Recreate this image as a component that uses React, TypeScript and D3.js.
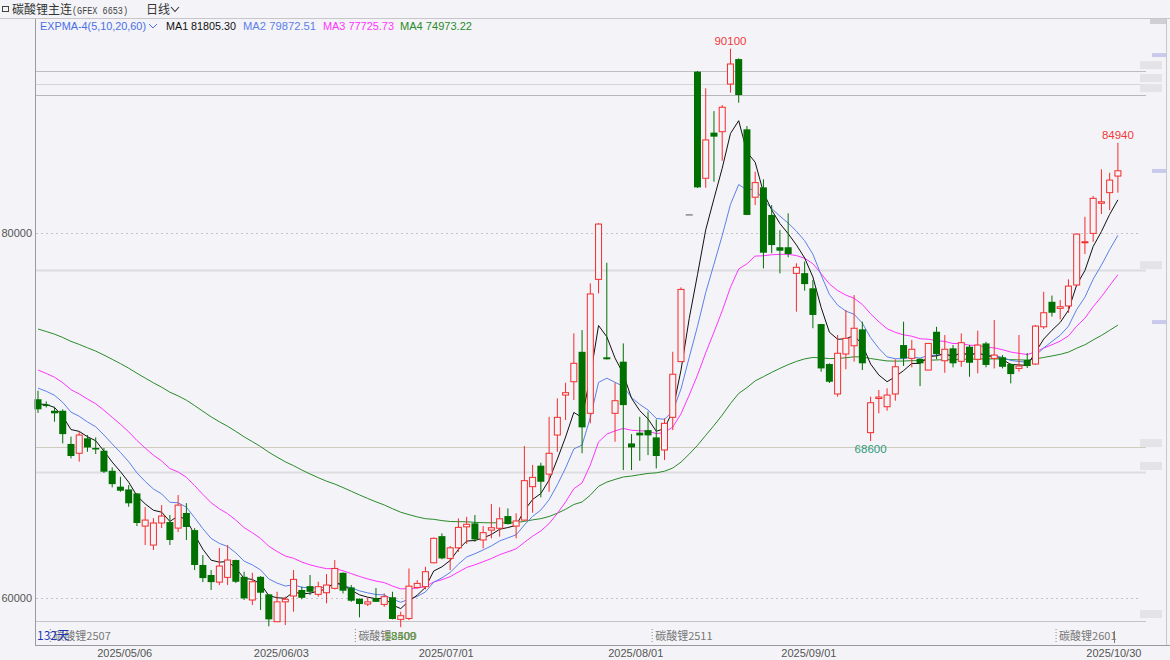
import React, { useEffect } from 'react';
import * as d3 from 'd3';

const W = 1170;
const H = 660;

// OHLC per trading day (index 0 = 2025/04/16 ... 131 = 2025/10/30)
const opens = [
  70890, 70600, 70260, 70260, 68440, 67930, 68750, 68220, 68070, 66970,
  66100, 65950, 65730, 63940, 62900, 64110, 64160, 63830, 64660, 63720,
  61810, 61260, 60870, 61130, 62080, 61160, 59890, 61160, 60200, 58700,
  59790, 60110, 60440, 60650, 60200, 60290, 60530, 61380, 60580, 59960,
  59670, 59980, 59650, 60040, 58830, 58880, 60580, 60620, 61930, 63390,
  62170, 62750, 63900, 64090, 63180, 63720, 63820, 64490, 63940, 64270,
  66100, 67250, 66790, 68930, 71120, 71850, 73490, 70120, 77460, 73190,
  70120, 72950, 68470, 69060, 69200, 68800, 68110, 69900, 72950, 80990,
  88840, 83000, 85500, 85550, 88160, 89530, 85680, 81960, 82500, 80990,
  79220, 79220, 77790, 77800, 76970, 75010, 72820, 71180, 73370, 73820,
  74720, 69060, 70930, 70480, 71180, 73860, 73130, 73110, 72490, 74590,
  73000, 73680, 72970, 73770, 73080, 73950, 73130, 73190, 72820, 72580,
  73040, 72820, 74860, 76230, 75870, 76000, 77150, 79470, 79980, 81630,
  82210, 83120,
];
const highs = [
  71360, 70770, 70480, 70340, 68840, 69110, 68930, 68800, 68220, 67160,
  66640, 66190, 65750, 64980, 64380, 65090, 64550, 65640, 65200, 63830,
  62350, 61530, 62740, 62900, 62100, 61440, 61380, 61200, 60220, 60340,
  60070, 61530, 60620, 61260, 60890, 61310, 62080, 61400, 60710, 59980,
  60040, 60550, 60250, 60340, 59250, 61620, 60980, 61710, 63320, 63540,
  62850, 64360, 64450, 64550, 63940, 65150, 64970, 64910, 64640, 68330,
  67290, 67410, 69930, 70940, 71800, 74500, 74680, 77240, 80530, 78370,
  71800, 73950, 68980, 69930, 70210, 69790, 69840, 73490, 77020, 80990,
  88880, 87930, 86680, 87010, 90100, 89570, 85860, 83360, 82940, 81530,
  80160, 81080, 78340, 78430, 77420, 75020, 72860, 74410, 75780, 76600,
  75140, 71030, 71400, 71490, 73080, 75140, 74140, 73120, 73960, 74860,
  74410, 73860, 74500, 73870, 74650, 74040, 75230, 73310, 72850, 74410,
  73420, 74960, 76780, 76570, 76330, 77460, 79960, 80890, 82030, 83490,
  83300, 84940,
];
const lows = [
  70140, 70440, 69660, 68470, 67650, 67470, 68010, 67890, 66850, 66060,
  65820, 65000, 63940, 62900, 62630, 63830, 62900, 63610, 63180, 61530,
  60870, 60440, 60710, 60710, 60820, 59890, 59610, 59340, 58450, 58700,
  58520, 59250, 59930, 60160, 60070, 59710, 60470, 60250, 59790, 58940,
  59560, 59780, 59520, 58830, 58400, 58790, 60520, 60470, 61900, 62120,
  61530, 62530, 62960, 63080, 62720, 63270, 63360, 64030, 63270, 64230,
  64670, 65520, 65820, 68010, 69750, 70850, 67930, 69570, 76690, 73070,
  68560, 67010, 67010, 67520, 67830, 67100, 67560, 69200, 72940, 80990,
  82470, 82480, 82810, 83960, 87690, 87140, 80980, 81530, 78060, 78890,
  77790, 78670, 75690, 76840, 74780, 72400, 71780, 71030, 72530, 72950,
  72490, 68600, 70120, 70260, 70810, 72710, 72640, 71610, 72480, 73080,
  72340, 72640, 72670, 72120, 72310, 72640, 72580, 72580, 71760, 72400,
  72600, 72770, 74740, 75420, 75270, 75630, 77090, 78850, 79520, 81040,
  81260, 82210,
];
const closes = [
  70340, 70550, 70120, 68980, 67780, 68930, 68250, 68180, 66920, 66240,
  65880, 65190, 64110, 64270, 64110, 64490, 63180, 65090, 63890, 61810,
  61090, 60870, 61750, 62080, 60890, 59980, 60890, 60290, 58830, 59790,
  59930, 61020, 60010, 60340, 60620, 60710, 61620, 60400, 59850, 59670,
  59790, 59790, 60070, 58850, 59030, 60650, 60800, 61440, 63270, 62170,
  62750, 63870, 64040, 63210, 63580, 63850, 64340, 64050, 64220, 66430,
  66610, 66370, 67930, 69900, 71250, 72860, 69350, 76660, 80490, 73080,
  70810, 70570, 68250, 68910, 68910, 67780, 69570, 72260, 76910, 80990,
  82500, 85100, 85280, 86890, 89260, 87560, 80990, 82760, 78920, 79340,
  79030, 78850, 78120, 77200, 75510, 72580, 71850, 73410, 74230, 74780,
  72860, 70700, 71010, 71120, 72670, 73130, 73630, 72860, 73950, 73370,
  73630, 72860, 73990, 72890, 73860, 72770, 73310, 72670, 72270, 72710,
  72710, 74900, 75630, 75630, 75960, 77090, 79940, 79520, 81900, 81710,
  82900, 83410,
];

const tickIdx = [11, 30, 50, 73, 94, 131];
const tickLabels = ['2025/05/06', '2025/06/03', '2025/07/01', '2025/08/01', '2025/09/01', '2025/10/30'];
const yTicks = [60000, 80000];

const emaPeriods = [5, 10, 20, 60];
const emaSeeds = [70630, 71500, 72490, 74740];
const emaColors = ['#111111', '#5b80e8', '#ff33ff', '#2a8a2a'];
const legendTitle = 'EXPMA-4(5,10,20,60)';
const legendLabels = ['MA1 81805.30', 'MA2 79872.51', 'MA3 77725.73', 'MA4 74973.22'];

// user-drawn horizontal price lines
const hLineValues = [88860, 88160, 87570, 77950, 68300, 66920, 58740];
const hLineColors = ['#bdbdc2', '#d6d6da', '#b8b8bc', '#dcdcdf', '#cfcbbd', '#dedee2', '#c4c4c8'];

// contract roll markers: boundary after index
const rollAfter = [1, 38, 74, 123];
const rollLabels = ['碳酸锂2507', '碳酸锂2509', '碳酸锂2511', '碳酸锂2601'];

// extreme labels
const extremeIdx = [84, 131, 101, 44];
const extremeKind = ['high', 'high', 'low', 'low'];
const extremeText = ['90100', '84940', '68600', '58400'];

// blurred right-axis tags (price levels)
const rightTagValues = [89200, 88490, 87940, 78240, 68490, 67230, 59120];
const rightMarkValues = [89750, 83400, 75120];

const FONT = '"Liberation Sans", Arial, "Noto Sans", sans-serif';
const MONO = '"Liberation Mono", "DejaVu Sans Mono", monospace';
const CJK = '"Noto Sans CJK SC", "Liberation Sans", sans-serif';

function ema(period: number, seed: number): number[] {
  const out: number[] = [];
  let prev = seed;
  closes.forEach((c, i) => {
    const v = i === 0 ? seed : (2 * c + (period - 1) * prev) / (period + 1);
    out.push(v);
    prev = v;
  });
  return out;
}

export default function App() {
  useEffect(() => {
    document.body.style.margin = '0';
    document.body.style.background = '#f4f4f8';
  }, []);

  const x = d3.scaleLinear().domain([0, 131]).range([38, 1117.9]);
  const y = d3.scaleLinear().domain([60000, 80000]).range([598, 233]);
  const bw = 6;

  const green = '#007000';
  const red = '#f52a2a';
  const bg = '#f4f4f8';

  const emaLines = emaPeriods.map((p, k) => {
    const vals = ema(p, emaSeeds[k]);
    const line = d3.line<number>().x((_, i) => x(i)).y((v) => y(v));
    return line(vals) || '';
  });

  const candles = opens.map((o, i) => {
    const c = closes[i];
    const h = highs[i];
    const l = lows[i];
    const cx = x(i);
    if (o === c && h === l) {
      return <line key={i} x1={cx - 3.5} x2={cx + 3.5} y1={y(c)} y2={y(c)} stroke="#555" strokeWidth={1} />;
    }
    const up = c > o;
    const top = y(Math.max(o, c));
    const bot = y(Math.min(o, c));
    if (up) {
      return (
        <g key={i}>
          <line x1={cx} x2={cx} y1={y(h)} y2={top} stroke={red} strokeWidth={1} />
          <line x1={cx} x2={cx} y1={bot} y2={y(l)} stroke={red} strokeWidth={1} />
          <rect x={cx - bw / 2} y={top} width={bw} height={Math.max(bot - top, 1)} fill={bg} stroke={red} strokeWidth={1} />
        </g>
      );
    }
    return (
      <g key={i}>
        <line x1={cx} x2={cx} y1={y(h)} y2={y(l)} stroke={green} strokeWidth={1} />
        <rect x={cx - bw / 2 - 0.5} y={top} width={bw + 1} height={Math.max(bot - top, 1.5)} fill={green} />
      </g>
    );
  });

  const legendX = [166, 243, 323, 400];
  const legendW = [70, 73, 71, 72];

  return (
    <svg width={W} height={H} style={{ display: 'block', background: bg }} xmlns="http://www.w3.org/2000/svg">
      <rect x={0} y={0} width={W} height={H} fill={bg} />
      {/* header */}
      <g fontFamily={CJK} fontSize={12} fill="#333">
        <rect x={2.5} y={6.5} width={6} height={5} fill="none" stroke="#444" strokeWidth={1} />
        <text x={12} y={14}>碳酸锂主连</text>
        <text x={72} y={14} fontFamily={MONO} fontSize={11.5} fill="#444" textLength={56} lengthAdjust="spacingAndGlyphs">(GFEX 6653)</text>
        <text x={146} y={14}>日线</text>
        <path d="M171,7 L175,11.5 L179,7" fill="none" stroke="#333" strokeWidth={1.1} />
      </g>
      <line x1={0} x2={W} y1={18.5} y2={18.5} stroke="#c6c6cc" />

      {/* legend */}
      <g fontFamily={FONT} fontSize={11.5}>
        <text x={40} y={30} fill="#4a6ee6" textLength={106} lengthAdjust="spacingAndGlyphs">{legendTitle}</text>
        <path d="M149,24 L153,28 L157,24" fill="none" stroke="#4a6ee6" strokeWidth={1} />
        {legendLabels.map((t, k) => (
          <text key={t} x={legendX[k]} y={30} fill={k === 0 ? '#111' : emaColors[k]} textLength={legendW[k]} lengthAdjust="spacingAndGlyphs">{t}</text>
        ))}
      </g>

      {/* horizontal price lines */}
      {hLineValues.map((v, k) => (
        <line key={v} x1={35} x2={1146} y1={Math.round(y(v)) + 0.5} y2={Math.round(y(v)) + 0.5} stroke={hLineColors[k]} strokeWidth={k === 3 || k === 5 ? 2 : 1} />
      ))}
      {/* dotted grid */}
      {yTicks.map((v) => (
        <line key={v} x1={36} x2={1140} y1={Math.round(y(v)) + 0.5} y2={Math.round(y(v)) + 0.5} stroke="#c4c4c8" strokeDasharray="2,3" />
      ))}

      {/* right axis area */}
      {rightTagValues.map((v) => (
        <rect key={v} x={1140} y={y(v) - 4} width={22} height={8} fill="#e4e4e8" />
      ))}
      {rightMarkValues.map((v) => (
        <rect key={v} x={1152} y={y(v) - 2} width={14} height={4} fill="#c9c9ec" />
      ))}
      <rect x={1150} y={19} width={16} height={5} fill="#d0d0d4" />
      <line x1={1166.5} x2={1166.5} y1={19} y2={645} stroke="#c8c8cc" />

      {/* y axis labels */}
      {yTicks.map((v) => (
        <text key={v} x={32} y={y(v) + 4} textAnchor="end" fontFamily={FONT} fontSize={11} fill="#555">{v}</text>
      ))}

      {/* EMA lines */}
      {emaLines.slice().reverse().map((d, k) => (
        <path key={k} d={d} fill="none" stroke={emaColors[emaColors.length - 1 - k]} strokeWidth={1} />
      ))}

      {/* candles */}
      {candles}

      {/* bottom info row */}
      {rollAfter.map((a, k) => {
        const bx = (x(a) + x(a + 1)) / 2;
        return (
          <g key={a}>
            <line x1={bx} x2={bx} y1={629} y2={643} stroke="#888" strokeDasharray="1,2" />
            <text x={bx + 3} y={640} fontFamily={CJK} fontSize={11} fill="#777">{rollLabels[k]}</text>
          </g>
        );
      })}
      <line x1={1114.5} x2={1114.5} y1={631} y2={643} stroke="#777" />
      <text x={37} y={640} fontFamily={CJK} fontSize={12} fill="#1c36b8">132天</text>

      {/* extremes */}
      {extremeIdx.map((i, k) => {
        const isHigh = extremeKind[k] === 'high';
        const ty = isHigh ? y(highs[i]) - 4 : y(lows[i]) + 12;
        const fill = isHigh ? '#f03a3a' : k === 2 ? '#2f9a7a' : '#5a9a30';
        const fy = k === 3 ? 640 : ty;
        return (
          <text key={i} x={x(i)} y={fy} textAnchor="middle" fontFamily={FONT} fontSize={11.5} fill={fill}>{extremeText[k]}</text>
        );
      })}

      {/* axes */}
      <line x1={35.5} x2={35.5} y1={19} y2={645} stroke="#9a9aa0" />
      <line x1={35} x2={W} y1={645.5} y2={645.5} stroke="#9a9aa0" />
      {tickIdx.map((i, k) => (
        <text key={i} x={x(i) - 4} y={657} textAnchor="middle" fontFamily={FONT} fontSize={11} fill="#555">{tickLabels[k]}</text>
      ))}
    </svg>
  );
}
